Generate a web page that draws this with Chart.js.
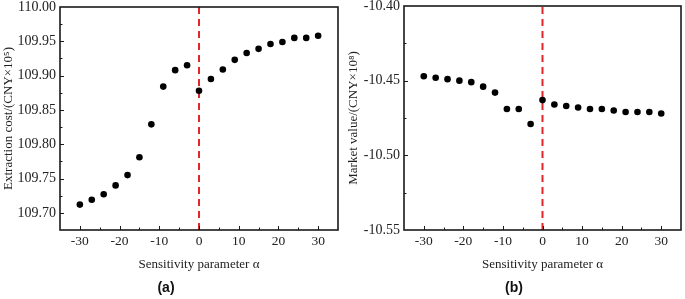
<!DOCTYPE html>
<html>
<head>
<meta charset="utf-8">
<script src="https://cdn.jsdelivr.net/npm/chart.js@4.4.1/dist/chart.umd.min.js"></script>
<style>
    body { margin: 0; background: #fff; }
    #wrap { position: relative; width: 685px; height: 299px; }
    #wrap canvas { position: absolute; top: 0; }
    .panel-label {
        position: absolute;
        font: bold 14px "Liberation Sans", Arial, sans-serif;
        color: #111;
        transform: translate(-50%, -50%);
    }
</style>
</head>
<body>
<div id="wrap">
    <canvas id="costChart" width="342" height="299" style="left:0"></canvas>
    <canvas id="marketChart" width="343" height="299" style="left:342px"></canvas>
    <div class="panel-label" style="left:166px; top:287px">(a)</div>
    <div class="panel-label" style="left:514px; top:287px">(b)</div>
</div>
<script>
// sensitivity parameter alpha (shared x values)
const alpha = [-30, -27, -24, -21, -18, -15, -12, -9, -6, -3, 0, 3, 6, 9, 12, 15, 18, 21, 24, 27, 30];

// (a) extraction cost, CNY x 10^5
const extractionCost = [109.712, 109.719, 109.727, 109.740, 109.755, 109.781, 109.829, 109.884, 109.908, 109.915,
    109.878, 109.895, 109.909, 109.923, 109.933, 109.939, 109.946, 109.949, 109.955, 109.955, 109.958];

// (b) market value, CNY x 10^8
const marketValue = [-10.447, -10.448, -10.449, -10.450, -10.451, -10.454, -10.458, -10.469, -10.469, -10.479,
    -10.463, -10.466, -10.467, -10.468, -10.469, -10.469, -10.470, -10.471, -10.471, -10.471, -10.472];

// x axis: labelled ticks and range
const xTickValues = [-30, -20, -10, 0, 10, 20, 30];
const xRange = [-35, 35, 10];

// y ranges: [min, max, major step]
const costRange = [109.675, 110.00, 0.05];
const marketRange = [-10.55, -10.40, 0.05];

// reference line at alpha = 0
const refLineX = [0, 0];

const serif = '"Liberation Serif", "Times New Roman", serif';

// frame + inward major/minor tick marks
const frameTicks = {
    id: 'frameTicks',
    afterDraw(chart) {
        const { ctx, chartArea: a, scales: { x, y } } = chart;
        const yStep = chart.options.scales.y.ticks.stepSize;
        if (!yStep) return;
        ctx.save();
        ctx.strokeStyle = '#1a1a1a';
        ctx.lineWidth = 1;
        ctx.beginPath();
        const xs = xRange[2] / 2;
        for (let i = 0; i < 100; i++) {
            const v = x.min + i * xs;
            if (v > x.max + 1e-9) break;
            const px = Math.round(x.getPixelForValue(v)) + 0.5;
            if (px <= a.left + 2 || px >= a.right - 2) continue;
            const major = Math.abs(v / xRange[2] - Math.round(v / xRange[2])) < 1e-6;
            ctx.moveTo(px, a.bottom);
            ctx.lineTo(px, a.bottom - (major ? 4 : 2.5));
        }
        const ys = yStep / 2;
        for (let i = 0; i < 100; i++) {
            const v = y.min + i * ys;
            if (v > y.max + 1e-9) break;
            const py = Math.round(y.getPixelForValue(v)) + 0.5;
            if (py <= a.top + 2 || py >= a.bottom - 2) continue;
            const major = Math.abs(v / yStep - Math.round(v / yStep)) < 1e-6;
            ctx.moveTo(a.left, py);
            ctx.lineTo(a.left + (major ? 4 : 2.5), py);
        }
        ctx.stroke();
        ctx.lineWidth = 1.6;
        ctx.strokeRect(a.left, a.top, a.right - a.left, a.bottom - a.top);
        ctx.restore();
    }
};

function renderSensitivityChart({ elementId, values, range, yTitle, yWidth, pad, titlePad }) {
    const canvas = document.getElementById(elementId);
    const ctx = canvas.getContext('2d');

    new Chart(ctx, {
        type: 'scatter',
        data: {
            datasets: [{
                data: alpha.map((a, i) => ({ x: a, y: values[i] })),
                backgroundColor: '#000',
                borderWidth: 0,
                pointRadius: 3.3,
                order: 0
            }, {
                type: 'line',
                data: refLineX.map((v, i) => ({ x: v, y: range[i] })),
                borderColor: '#e3262b',
                borderWidth: 2,
                borderDash: [7, 5],
                pointRadius: 0,
                order: 1
            }]
        },
        options: {
            responsive: false,
            animation: false,
            layout: { padding: pad },
            plugins: { legend: { display: false }, tooltip: { enabled: false } },
            scales: {
                x: {
                    type: 'linear',
                    min: xRange[0],
                    max: xRange[1],
                    grid: { display: false, drawTicks: false },
                    border: { display: false },
                    afterBuildTicks(scale) {
                        scale.ticks = xTickValues.map(v => ({ value: v }));
                    },
                    ticks: {
                        padding: 3,
                        color: '#222',
                        font: { family: serif, size: 13.5 }
                    },
                    title: {
                        display: true,
                        text: 'Sensitivity parameter α',
                        color: '#222',
                        padding: 0,
                        font: { family: serif, size: 13 }
                    },
                    afterFit(scale) {
                        scale.height = 42;
                        scale.paddingLeft = 0;
                        scale.paddingRight = 0;
                    }
                },
                y: {
                    min: range[0],
                    max: range[1],
                    grid: { display: false, drawTicks: false },
                    border: { display: false },
                    ticks: {
                        stepSize: range[2],
                        includeBounds: false,
                        padding: 4,
                        color: '#222',
                        font: { family: serif, size: 14 },
                        callback: (v) => Number(v).toFixed(2)
                    },
                    title: {
                        display: true,
                        text: yTitle,
                        color: '#222',
                        padding: { top: titlePad, bottom: 0 },
                        font: { family: serif, size: 13 }
                    },
                    afterFit(scale) {
                        scale.width = yWidth;
                        scale.paddingTop = 0;
                        scale.paddingBottom = 0;
                    }
                }
            }
        },
        plugins: [frameTicks]
    });
}

renderSensitivityChart({
    elementId: 'costChart',
    values: extractionCost,
    range: costRange,
    yTitle: 'Extraction cost/(CNY×10⁵)',
    yWidth: 60,
    pad: { top: 7, right: 4, bottom: 27, left: 0 },
    titlePad: 1
});

renderSensitivityChart({
    elementId: 'marketChart',
    values: marketValue,
    range: marketRange,
    yTitle: 'Market value/(CNY×10⁸)',
    yWidth: 62,
    pad: { top: 6, right: 2, bottom: 27, left: 0 },
    titlePad: 4
});
</script>
</body>
</html>
